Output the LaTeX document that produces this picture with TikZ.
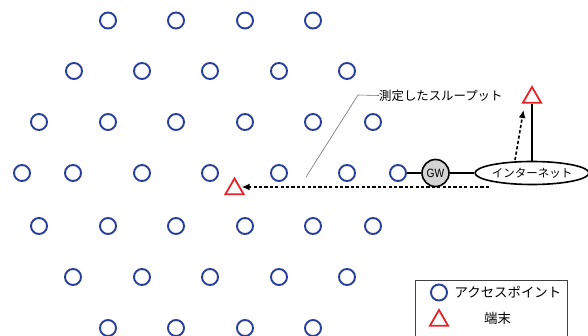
\documentclass[tikz,border=0pt]{standalone}
\usepackage{fontspec}
\newfontfamily\jpfont{Noto Sans CJK JP}
\newfontfamily\gwfont{Liberation Sans}
\usetikzlibrary{shapes.geometric,arrows.meta}

\definecolor{apblue}{RGB}{40,62,156}
\definecolor{termred}{RGB}{230,36,40}
\definecolor{gwgray}{RGB}{212,212,212}

\tikzset{
  ap/.style={circle,draw=apblue,line width=1.9pt,minimum size=16pt,inner sep=0pt},
  term/.style={regular polygon,regular polygon sides=3,draw=termred,line width=1.8pt,
               minimum size=21pt,inner sep=0pt},
  gateway/.style={circle,draw=black,fill=gwgray,line width=1.6pt,minimum size=27pt,
                  inner sep=0pt,font=\gwfont\fontsize{12}{12}\selectfont},
  net/.style={ellipse,draw=black,line width=1.6pt,minimum width=110pt,minimum height=23pt,
              inner sep=0pt,font=\jpfont\fontsize{11.5}{12}\selectfont},
  link/.style={draw=black,line width=1.8pt},
  flow/.style={draw=black,line width=1.6pt,dash pattern=on 3.2pt off 2.2pt,
               -{Latex[length=8pt,width=7pt]}},
  leader/.style={draw=black!55,line width=0.6pt},
  label/.style={font=\jpfont\fontsize{12.4}{13}\selectfont,inner sep=0pt,anchor=west},
  legendtext/.style={font=\jpfont\fontsize{13.4}{14}\selectfont,inner sep=0pt},
}

\begin{document}
\begin{tikzpicture}[x=1pt,y=-1pt]
  \path[use as bounding box] (0,0) rectangle (588,336);

  % access points, row by row
  \foreach \x [count=\i] in {108,176,245,313}
    \node[ap] (a1-\i) at (\x,20.5) {};
  \foreach \x [count=\i] in {74,142,210,279,347}
    \node[ap] (a2-\i) at (\x,71) {};
  \foreach \x [count=\i] in {39,108,176,245,313,373}
    \node[ap] (a3-\i) at (\x,122) {};
  \foreach \x [count=\i] in {22,73,142,210,279,347,398}
    \node[ap] (a4-\i) at (\x,173) {};
  \foreach \x [count=\i] in {39,108,176,245,313,373}
    \node[ap] (a5-\i) at (\x,226) {};
  \foreach \x [count=\i] in {73,142,210,279,347}
    \node[ap] (a6-\i) at (\x,277) {};
  \foreach \x [count=\i] in {108,176,245,313}
    \node[ap] (a7-\i) at (\x,328) {};

  % gateway and internet
  \node[gateway] (gw) at (435.5,173) {\scalebox{0.85}[1]{GW}};
  \node[net] (inet) at (532,173) {インターネット};
  \draw[link] (a4-7) -- (gw);
  \draw[link] (gw) -- (inet);

  % terminals
  \node[term] (t1) at (234.5,189) {};
  \node[term] (t2) at (532,97.5) {};
  \draw[link] (inet.north) -- (t2.south);

  % measured throughput paths
  \coordinate (fstart) at (489,187);
  \coordinate (ustart) at (515,160);
  \draw[flow] (fstart) -- (t1.east |- fstart);
  \draw[flow] (ustart) -- (523.5,110);

  % label with leader line
  \coordinate (lbot) at (306,177);
  \coordinate (lbend) at (358,95);
  \node[label] (tp) at (379,95.5) {測定したスループット};
  \draw[leader] (lbot) -- (lbend) -- (tp.west);

  % legend
  \draw[draw=black!75,line width=0.8pt] (415,340) -- (415,280) -- (567,280) -- (567,340);
  \node[ap] (lap) at (439,292.5) {};
  \node[legendtext,anchor=west] (lapt) at (454.5,292.5) {アクセスポイント};
  \node[term] (lt) at (439,320.5) {};
  \node[legendtext] (ltt) at (497.5,318.5) {端末};
\end{tikzpicture}
\end{document}
